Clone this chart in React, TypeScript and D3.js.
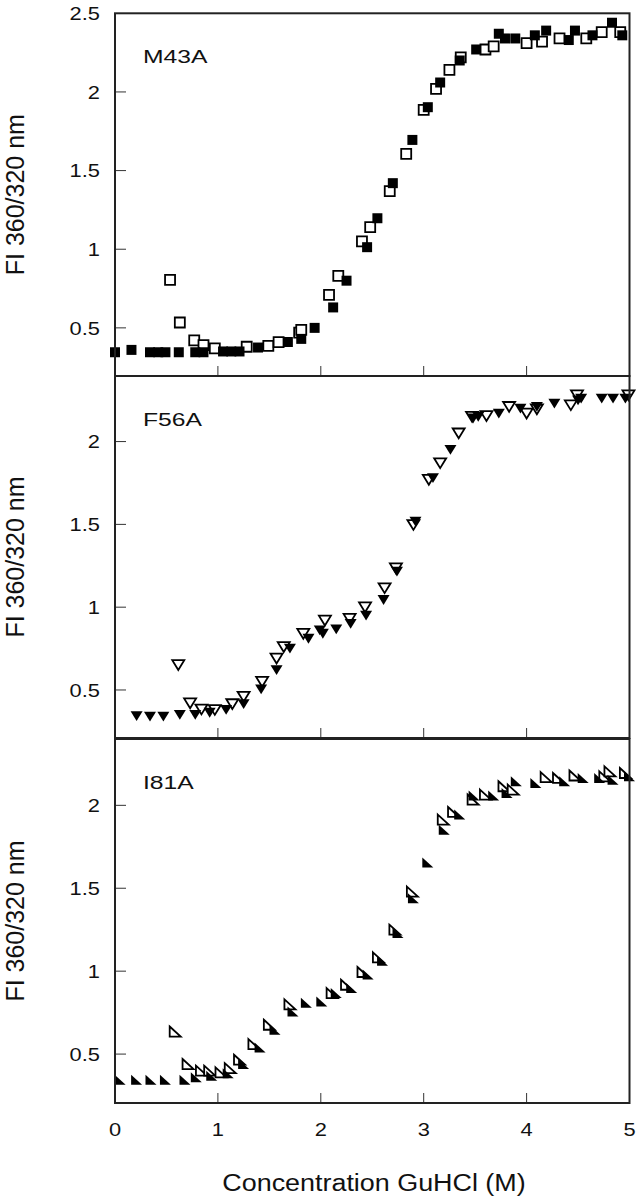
import * as d3 from "d3";

// GuHCl concentration (M), FI 360/320 nm ratio
const m43aFilled: [number, number][] = [
  [0, 0.345], [0.16, 0.36], [0.34, 0.345], [0.42, 0.345], [0.49, 0.345], [0.62, 0.345],
  [0.78, 0.345], [0.86, 0.345], [1.05, 0.35], [1.13, 0.35], [1.21, 0.35], [1.39, 0.375],
  [1.68, 0.41], [1.81, 0.43], [1.94, 0.5], [2.12, 0.63], [2.25, 0.8], [2.45, 1.013],
  [2.55, 1.197], [2.7, 1.42], [2.89, 1.695], [3.04, 1.903], [3.16, 2.06], [3.35, 2.2],
  [3.51, 2.27], [3.73, 2.37], [3.79, 2.34], [3.89, 2.34], [4.08, 2.36], [4.19, 2.39],
  [4.41, 2.33], [4.47, 2.39], [4.64, 2.36], [4.83, 2.44], [4.93, 2.36],
];
const m43aOpen: [number, number][] = [
  [0.535, 0.805], [0.63, 0.534], [0.77, 0.42], [0.86, 0.39], [0.97, 0.37], [1.28, 0.38],
  [1.49, 0.385], [1.59, 0.41], [1.79, 0.47], [1.81, 0.487], [2.08, 0.71], [2.17, 0.83],
  [2.4, 1.05], [2.48, 1.14], [2.67, 1.37], [2.83, 1.606], [3.0, 1.886], [3.12, 2.02],
  [3.25, 2.14], [3.36, 2.22], [3.6, 2.27], [3.68, 2.29], [4.0, 2.31], [4.15, 2.32],
  [4.32, 2.34], [4.58, 2.34], [4.73, 2.38], [4.91, 2.38],
];
const f56aFilled: [number, number][] = [
  [0.21, 0.343], [0.34, 0.34], [0.47, 0.34], [0.63, 0.35], [0.78, 0.35], [0.92, 0.363],
  [1.08, 0.38], [1.25, 0.415], [1.42, 0.504], [1.57, 0.62], [1.7, 0.75], [1.88, 0.81],
  [1.99, 0.86], [2.02, 0.84], [2.15, 0.867], [2.29, 0.9], [2.44, 0.95], [2.61, 1.044],
  [2.74, 1.215], [2.92, 1.517], [3.09, 1.78], [3.26, 1.95], [3.48, 2.14], [3.53, 2.15],
  [3.73, 2.17], [3.94, 2.2], [4.1, 2.21], [4.27, 2.23], [4.5, 2.25], [4.53, 2.26],
  [4.73, 2.26], [4.84, 2.26], [4.96, 2.26],
];
const f56aOpen: [number, number][] = [
  [0.615, 0.651], [0.73, 0.42], [0.84, 0.383], [0.97, 0.38], [1.14, 0.415], [1.25, 0.46],
  [1.43, 0.55], [1.57, 0.69], [1.64, 0.76], [1.83, 0.84], [2.04, 0.92], [2.28, 0.93],
  [2.43, 1.0], [2.62, 1.115], [2.73, 1.235], [2.9, 1.497], [3.05, 1.77], [3.16, 1.87],
  [3.34, 2.05], [3.47, 2.15], [3.61, 2.155], [3.83, 2.21], [4.0, 2.17], [4.1, 2.195],
  [4.43, 2.22], [4.49, 2.28], [4.99, 2.28],
];
const i81aFilled: [number, number][] = [
  [0.05, 0.345], [0.21, 0.345], [0.35, 0.345], [0.49, 0.345], [0.68, 0.345], [0.79, 0.36],
  [0.94, 0.37], [1.1, 0.385], [1.25, 0.44], [1.41, 0.54], [1.555, 0.647], [1.73, 0.757],
  [1.86, 0.81], [2.01, 0.817], [2.15, 0.868], [2.3, 0.898], [2.46, 0.98], [2.6, 1.063],
  [2.75, 1.23], [2.9, 1.44], [3.04, 1.656], [3.2, 1.853], [3.35, 1.944], [3.49, 2.06],
  [3.68, 2.06], [3.81, 2.075], [3.9, 2.145], [4.09, 2.135], [4.37, 2.145], [4.55, 2.165],
  [4.71, 2.165], [4.84, 2.155], [5.0, 2.175],
];
const i81aOpen: [number, number][] = [
  [0.585, 0.636], [0.71, 0.44], [0.84, 0.4], [0.92, 0.4], [1.03, 0.39], [1.12, 0.415],
  [1.21, 0.466], [1.35, 0.56], [1.5, 0.677], [1.7, 0.8], [2.11, 0.868], [2.25, 0.918],
  [2.41, 0.995], [2.56, 1.083], [2.72, 1.25], [2.89, 1.48], [3.19, 1.914], [3.29, 1.96],
  [3.48, 2.035], [3.6, 2.065], [3.78, 2.115], [3.87, 2.095], [4.19, 2.17], [4.31, 2.165],
  [4.47, 2.18], [4.76, 2.175], [4.81, 2.205], [4.96, 2.195],
];

const xTicks = [0, 1, 2, 3, 4, 5];
const yTicksTop = [0.5, 1, 1.5, 2, 2.5];
const yTicksLower = [0.5, 1, 1.5, 2];
const panelNames = ["M43A", "F56A", "I81A"];
const yTitle = "FI 360/320 nm";
const xTitle = "Concentration GuHCl (M)";

const W = 638;
const H = 1199;
const FONT = "Arial, 'Liberation Sans', sans-serif";

type Shape = "square" | "down" | "corner";

function markerPath(shape: Shape): string {
  if (shape === "square") return "M-5,-5H5V5H-5Z";
  if (shape === "down") return "M-6,-4.8H6L0,5Z";
  return "M-5.5,-5L5.5,5H-5.5Z";
}

// horizontally widened label, the source figure's type is a little stretched
function Label({ x, y, size, sx, anchor = "start", children }: {
  x: number; y: number; size: number; sx: number; anchor?: string; children: any;
}) {
  return (
    <text transform={`translate(${x},${y}) scale(${sx},1)`} textAnchor={anchor}
      fontSize={size} fontFamily={FONT} fill="#111">
      {children}
    </text>
  );
}

function Panel({ name, top, bottom, yDomain, yTicks, filled, open, shape, showX }: {
  name: string; top: number; bottom: number; yDomain: [number, number]; yTicks: number[];
  filled: [number, number][]; open: [number, number][]; shape: Shape; showX: boolean;
}) {
  const x = d3.scaleLinear().domain([0, 5]).range([115, 629.5]);
  const y = d3.scaleLinear().domain(yDomain).range([bottom, top]);
  const [x0, x1] = x.range();
  const d = markerPath(shape);
  return (
    <g>
      {x.ticks(5).filter((t) => t > 0 && t < 5).map((t) => (
        <line key={"xt" + t} x1={x(t)} x2={x(t)} y1={bottom} y2={bottom - 10} stroke="#333" strokeWidth={1} />
      ))}
      {yTicks.filter((t) => y(t) > top + 1).map((t) => (
        <line key={"yt" + t} x1={x0} x2={x0 + 11} y1={y(t)} y2={y(t)} stroke="#333" strokeWidth={1} />
      ))}
      {yTicks.map((t) => (
        <Label key={"yl" + t} x={100} y={y(t) + 6.8} size={19} sx={1.15} anchor="end">
          {d3.format("~g")(t)}
        </Label>
      ))}
      <text
        transform={`translate(24,${(top + bottom) / 2}) rotate(-90)`}
        textAnchor="middle" fontSize={25} fontFamily={FONT} fill="#111"
      >
        {yTitle}
      </text>
      <Label x={143} y={top + 50} size={19} sx={1.3}>{name}</Label>
      {open.map(([c, v], i) => (
        <path key={"o" + i} d={d} transform={`translate(${x(c)},${y(v)})`} fill="#fff" stroke="#000" strokeWidth={1.8} />
      ))}
      {filled.map(([c, v], i) => (
        <path key={"f" + i} d={d} transform={`translate(${x(c)},${y(v)})`} fill="#000" />
      ))}
      <rect x={x0} y={top} width={x1 - x0} height={bottom - top} fill="none" stroke="#222" strokeWidth={2} />
      {showX && xTicks.map((t) => (
        <Label key={"xl" + t} x={x(t)} y={bottom + 33} size={19} sx={1.15} anchor="middle">
          {t}
        </Label>
      ))}
    </g>
  );
}

export default function App() {
  return (
    <svg width={W} height={H} style={{ position: "absolute", left: 0, top: 0, background: "#fff" }}>
      <Panel name={panelNames[0]} top={13.3} bottom={376} yDomain={[0.194, 2.5]} yTicks={yTicksTop}
        filled={m43aFilled} open={m43aOpen} shape="square" showX={false} />
      <Panel name={panelNames[1]} top={376} bottom={738} yDomain={[0.21, 2.396]} yTicks={yTicksLower}
        filled={f56aFilled} open={f56aOpen} shape="down" showX={false} />
      <Panel name={panelNames[2]} top={739} bottom={1103} yDomain={[0.205, 2.4]} yTicks={yTicksLower}
        filled={i81aFilled} open={i81aOpen} shape="corner" showX={true} />
      <Label x={374} y={1191} size={23} sx={1.17} anchor="middle">{xTitle}</Label>
    </svg>
  );
}
